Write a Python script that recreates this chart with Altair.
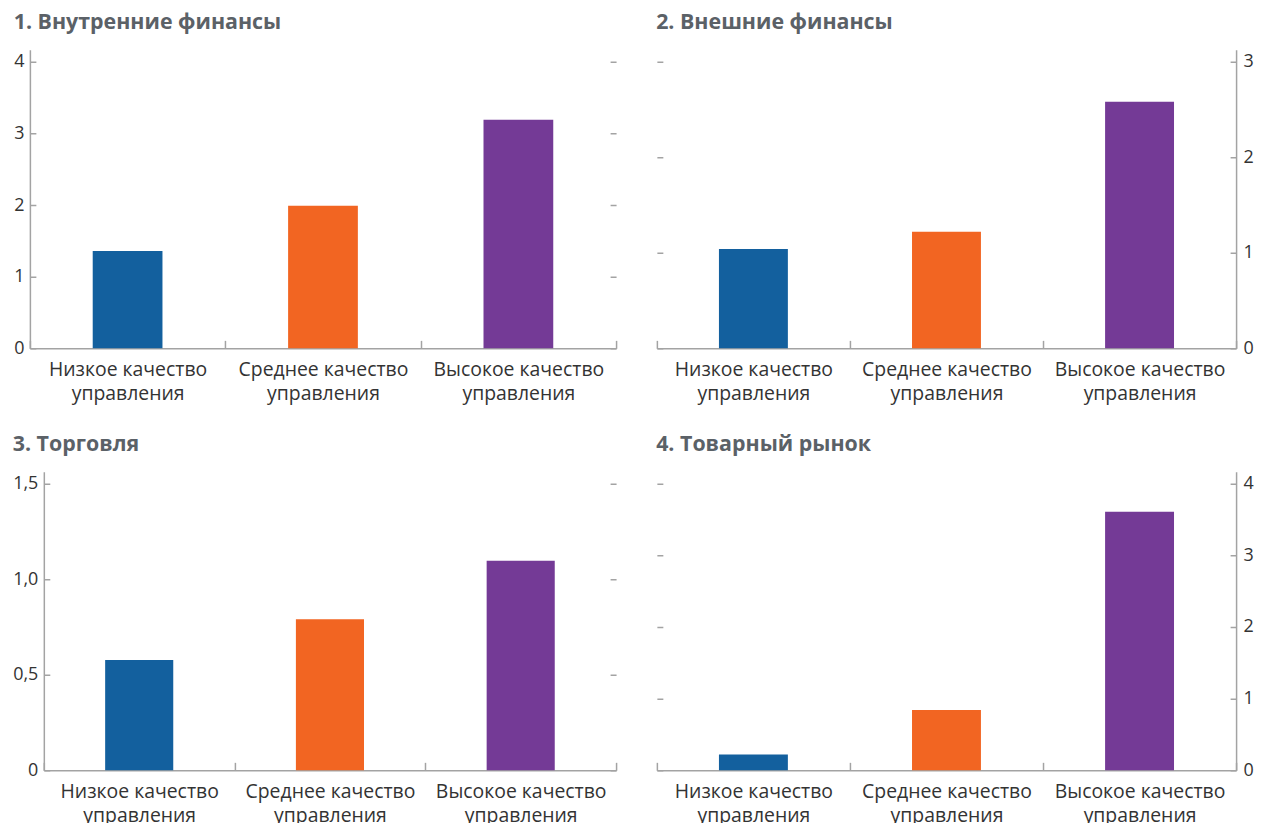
import altair as alt
import pandas as pd

categories = ["Низкое качество управления", "Среднее качество управления", "Высокое качество управления"]
colors = ["#13609e", "#f26522", "#743a96"]
titles = ["1. Внутренние финансы", "2. Внешние финансы", "3. Торговля", "4. Товарный рынок"]

vals1 = [1.36, 1.99, 3.19]
vals2 = [1.04, 1.22, 2.58]
vals3 = [0.577, 0.79, 1.097]
vals4 = [0.22, 0.84, 3.61]

ticks1 = [0, 1, 2, 3, 4]
ticks2 = [0, 1, 2, 3]
ticks3 = [0, 0.5, 1.0, 1.5]
ticks4 = [0, 1, 2, 3, 4]

ymax = [4.167, 3.125, 1.5625, 4.167]

FONT = "Open Sans"
AXIS_GRAY = "#a3a3a3"
TEXT = "#333333"
TITLE_GRAY = "#5b6167"
TICK = 6

x_label_expr = ("[substring(datum.label, 0, lastindexof(datum.label, ' ')), "
                "substring(datum.label, lastindexof(datum.label, ' ') + 1)]")
comma_expr = "datum.value == 0 ? '0' : replace(format(datum.value, '.1f'), '.', ',')"


def panel(title, values, ticks, top, side, width, comma=False, shift=0):
    df = pd.DataFrame({"cat": categories, "val": values})
    sc = dict(paddingInner=0, paddingOuter=0)
    if shift:
        sc["range"] = [-shift, width]
    x = alt.X(
        "cat:N", sort=categories, title=None,
        scale=alt.Scale(**sc),
        axis=alt.Axis(labelAngle=0, tickBand="extent", tickSize=alt.ExprRef(expr="-8"),
                      labelExpr=x_label_expr, labelPadding=20, labelLineHeight=24,
                      labelOverlap=False, labelLimit=0, labelFontSize=19.5),
    )
    color = alt.Color("cat:N", sort=categories,
                      scale=alt.Scale(domain=categories, range=colors), legend=None)
    yscale = alt.Scale(domain=[0, top], nice=False, zero=True)
    span = width + shift
    # inward tick marks on both sides drawn as a dashed grid: tick, gap, tick
    axis_kwargs = dict(orient=side, values=ticks, domain=True, ticks=False,
                       grid=True, gridDash=[TICK, span - 2 * TICK],
                       gridColor=AXIS_GRAY, gridWidth=1.5,
                       labelPadding=6 if side == "left" else 7,
                       title=None, labelFontSize=18)
    if shift:
        axis_kwargs["offset"] = shift
    if comma:
        axis_kwargs["labelExpr"] = comma_expr
    else:
        axis_kwargs["format"] = "d"
    bars = alt.Chart(df).mark_bar(width=alt.RelativeBandSize(0.357)).encode(
        x=x, y=alt.Y("val:Q", scale=yscale, axis=alt.Axis(**axis_kwargs)), color=color)
    return bars.properties(
        width=width, height=300,
        title=alt.TitleParams(text=title, anchor="start", fontSize=21.5, font=FONT,
                              fontWeight="bold", color=TITLE_GRAY, offset=16),
    )


p1 = panel(titles[0], vals1, ticks1, ymax[0], "left", 575, shift=14)
p2 = panel(titles[1], vals2, ticks2, ymax[1], "right", 582)
p3 = panel(titles[2], vals3, ticks3, ymax[2], "left", 575, comma=True)
p4 = panel(titles[3], vals4, ticks4, ymax[3], "right", 582)

chart = alt.concat(
    p1, p2, p3, p4, columns=2,
    spacing={"row": 31, "column": 26},
    align={"row": "all", "column": "none"},
).properties(
    padding={"left": 4, "top": 2, "right": 0, "bottom": 0},
).configure_view(stroke=None).configure_axis(
    domainColor=AXIS_GRAY, domainWidth=1.5, tickColor=AXIS_GRAY, tickWidth=1.5,
    labelFont=FONT, labelColor=TEXT,
)

chart.save("out.html", embed_options={"renderer": "svg", "actions": False})
